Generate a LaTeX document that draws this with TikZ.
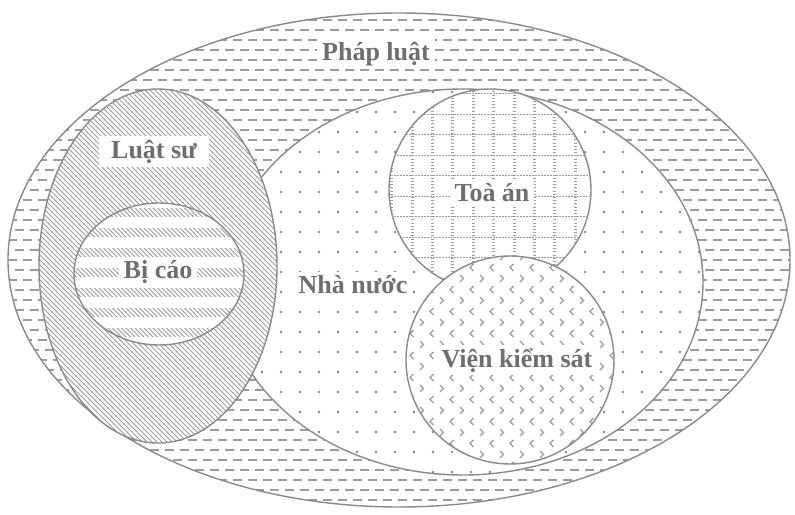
\documentclass[tikz,border=0pt]{standalone}
\usepackage{fontspec}
\setmainfont{Liberation Serif}
\definecolor{ink}{HTML}{8A8A8A}
\definecolor{pat}{HTML}{9C9C9C}
\definecolor{txt}{HTML}{6E6E6E}
\tikzset{
  outline/.style={draw=ink, line width=1.4pt},
  lbl/.style={font=\fontsize{26}{28}\selectfont\bfseries, text=txt, fill=white,
    inner xsep=5pt, inner ysep=3pt, anchor=base},
  dashrow/.style={pat, line width=1.7pt, dash pattern=on 9pt off 6pt},
  hatch/.style={pat, line width=1pt},
}
\begin{document}
\begin{tikzpicture}[x=1pt,y=-1pt]
\useasboundingbox (0,0) rectangle (795,514);
\fill[white] (0,0) rectangle (795,514);

% ---------- Phap luat (outer) ----------
\begin{scope}
  \clip (399,260) ellipse [x radius=391pt, y radius=247pt];
  \foreach \k in {0,...,50}{
    \pgfmathtruncatemacro\ph{mod(\k,2)*7}
    \draw[dashrow, dash phase=\ph pt] (0,{10+\k*10}) -- (800,{10+\k*10});
  }
\end{scope}
\draw[outline] (399,260) ellipse [x radius=391pt, y radius=247pt];

% ---------- Nha nuoc ----------
\fill[white] (463,282) ellipse [x radius=240pt, y radius=193pt];
\begin{scope}
  \clip (463,282) ellipse [x radius=240pt, y radius=193pt];
  \foreach \i in {0,...,26}{
    \foreach \j in {0,...,20}{
      \fill[pat!85!black] ({224+\i*19},{92+\j*20}) circle [radius=1.3pt];
    }
  }
\end{scope}
\draw[outline] (463,282) ellipse [x radius=240pt, y radius=193pt];

% ---------- Toa an ----------
\fill[white] (490,190) circle [radius=101pt];
\begin{scope}
  \clip (490,190) circle [radius=101pt];
  \foreach \k in {-1,...,8}{
    \draw[pat, line width=0.9pt, dash pattern=on 2pt off 1pt] (385,{114+\k*20.5}) -- (595,{114+\k*20.5});
  }
  \foreach \k in {-1,...,8}{
    \draw[pat, line width=3pt, dash pattern=on 1pt off 2.2pt] ({412+\k*20.4},85) -- ({412+\k*20.4},295);
  }
\end{scope}
\draw[outline] (490,190) circle [radius=101pt];

% ---------- Vien kiem sat ----------
\fill[white] (510,360) circle [radius=104pt];
\begin{scope}
  \clip (510,360) circle [radius=104pt];
  \foreach \k in {0,...,20}{
    \pgfmathtruncatemacro\odd{mod(\k,2)}
    \foreach \m in {0,...,11}{
      \ifnum\odd=0
        \draw[hatch, line width=1.1pt] ({400+\m*20},{253+\k*11}) -- ++(3.5,3.5) -- ++(-3.5,3.5);
      \else
        \draw[hatch, line width=1.1pt] ({393.5+\m*20},{253+\k*11}) -- ++(-3.5,3.5) -- ++(3.5,3.5);
      \fi
    }
  }
\end{scope}
\draw[outline] (510,360) circle [radius=104pt];

% ---------- Luat su ----------
\fill[white] (158,266) ellipse [x radius=119pt, y radius=177pt];
\begin{scope}
  \clip (158,266) ellipse [x radius=119pt, y radius=177pt];
  \foreach \x in {-420,-415,...,290}{
    \draw[hatch] (\x,80) -- ++(400,400);
  }
\end{scope}
\draw[outline] (158,266) ellipse [x radius=119pt, y radius=177pt];

% ---------- Bi cao ----------
\fill[white] (159,274) ellipse [x radius=85pt, y radius=71pt];
\begin{scope}
  \clip (159,274) ellipse [x radius=85pt, y radius=71pt];
  \foreach \k in {0,...,7}{
    \begin{scope}
      \clip (60,{208+\k*20}) rectangle (260,{216+\k*20});
      \foreach \x in {60,64.5,...,260}{
        \draw[hatch] (\x,{205+\k*20}) -- ++(12,12);
      }
    \end{scope}
  }
\end{scope}
\draw[outline] (159,274) ellipse [x radius=85pt, y radius=71pt];

% ---------- Labels ----------
\node[lbl] (phapluat) at (376,60) {Pháp luật};
\node[lbl, inner xsep=12pt, inner ysep=4pt] (luatsu) at (154,158) {Luật sư};
\node[lbl] (bicao) at (158,278) {Bị cáo};
\node[lbl] (nhanuoc) at (353,293) {Nhà nước};
\node[lbl] (toaan) at (492,201) {Toà án};
\node[lbl, inner xsep=3pt] (vks) at (517,367) {Viện kiểm sát};
\end{tikzpicture}
\end{document}
